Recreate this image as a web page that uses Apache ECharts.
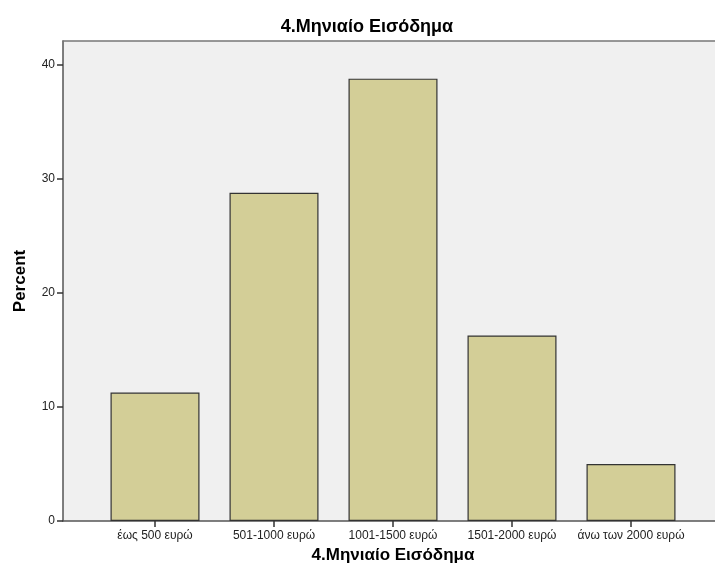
<!DOCTYPE html>
<html>
<head>
<meta charset="utf-8">
<script src="https://cdn.jsdelivr.net/npm/echarts@6/dist/echarts.min.js"></script>
<style>html,body{margin:0;padding:0;background:#fff;}#c{width:715px;height:574px;}</style>
</head>
<body>
<div id="c"></div>
<script>
const categories = ['έως 500 ευρώ', '501-1000 ευρώ', '1001-1500 ευρώ', '1501-2000 ευρώ', 'άνω των 2000 ευρώ'];
const percentValues = [11.25, 28.75, 38.75, 16.25, 5.0];
const yTicks = [0, 10, 20, 30, 40];
const chartTitle = '4.Μηνιαίο Εισόδημα';
const xName = '4.Μηνιαίο Εισόδημα';
const yName = 'Percent';

const FONT = 'Liberation Sans, Arial, sans-serif';
const chart = echarts.init(document.getElementById('c'), null, {renderer: 'canvas'});
const yMax = 42.05;
chart.setOption({
  animation: false,
  backgroundColor: '#ffffff',
  title: {
    text: chartTitle, left: 362, top: 13, textAlign: 'center',
    textStyle: {fontFamily: FONT, fontSize: 18, fontWeight: 'bold', color: '#000'}
  },
  grid: [
    {left: 63, right: 0, top: 41, bottom: 53, show: true, backgroundColor: '#F0F0F0', borderWidth: 0},
    {left: 95.5, width: 595, top: 41, bottom: 53}
  ],
  xAxis: [
    {gridIndex: 0, type: 'value', min: 0, max: 1, position: 'bottom',
     axisLine: {show: true, lineStyle: {color: '#555', width: 1.5}},
     axisTick: {show: false}, axisLabel: {show: false}, splitLine: {show: false}},
    {gridIndex: 0, type: 'value', min: 0, max: 1, position: 'top',
     axisLine: {show: true, lineStyle: {color: '#777', width: 1.5}},
     axisTick: {show: false}, axisLabel: {show: false}, splitLine: {show: false}},
    {gridIndex: 1, type: 'category', data: categories, position: 'bottom',
     axisLine: {show: false},
     axisTick: {show: true, alignWithLabel: true, length: 6, lineStyle: {color: '#333', width: 1.5}},
     axisLabel: {fontFamily: FONT, fontSize: 12, color: '#222', margin: 9, interval: 0},
     name: xName, nameLocation: 'middle', nameGap: 26,
     nameTextStyle: {fontFamily: FONT, fontSize: 17, fontWeight: 'bold', color: '#000'}}
  ],
  yAxis: [
    {gridIndex: 0, type: 'value', min: 0, max: yMax, interval: 10,
     axisLine: {show: true, lineStyle: {color: '#555', width: 1.5}},
     axisTick: {show: true, length: 6, customValues: yTicks, lineStyle: {color: '#333', width: 1.5}},
     axisLabel: {fontFamily: FONT, fontSize: 12, color: '#222', margin: 8, customValues: yTicks,
       formatter: v => (yTicks.indexOf(v) >= 0 ? String(v) : '')},
     splitLine: {show: false},
     name: yName, nameLocation: 'middle', nameGap: 34,
     nameTextStyle: {fontFamily: FONT, fontSize: 17, fontWeight: 'bold', color: '#000'}},
    {gridIndex: 1, type: 'value', min: 0, max: yMax, show: false}
  ],
  series: [{
    type: 'bar', xAxisIndex: 2, yAxisIndex: 1, data: percentValues,
    barWidth: 89,
    itemStyle: {color: '#D3CE97', borderColor: '#333', borderWidth: 1.2}
  }]
});
</script>
</body>
</html>
